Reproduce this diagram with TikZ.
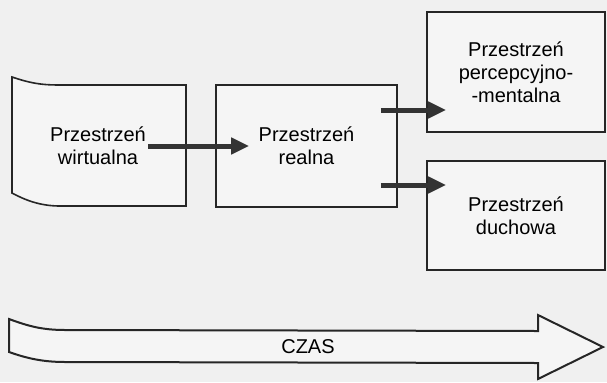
\documentclass[tikz,border=0pt]{standalone}
\usepackage{fontspec}
\setmainfont{Liberation Sans}
\usetikzlibrary{arrows.meta}

\begin{document}
\begin{tikzpicture}[x=0.5pt,y=-0.5pt,
    pole/.style={draw=black!85,line width=0.8pt,fill=white!92!gray,align=center,
        font=\fontsize{10}{11.5}\selectfont},
    napis/.style={align=center,font=\fontsize{10}{11.5}\selectfont},
    strz/.style={draw=black!80,line width=2.5pt,-{Triangle[length=9pt,width=8pt]}}]
    \fill[gray!12](0,0)rectangle(607,382);
    \useasboundingbox(0,0)rectangle(607,382);
    % przestrzen wirtualna
    \draw[draw=black!85,line width=0.8pt,fill=white!92!gray](12,77)..controls(30,83)and(40,85)..(60,85)
        --(186,85)--(186,206)--(60,206)..controls(40,206)and(25,200)..(12,193)--cycle;
    \node[napis,minimum width=88pt](wirt)at(98,146){Przestrzeń\\wirtualna};
    \node[pole,minimum width=90.5pt,minimum height=61pt](real)at(306.5,146){Przestrzeń\\realna};
    \node[pole,minimum width=89pt,minimum height=60pt](perc)at(516,72){Przestrzeń\\percepcyjno-\\-mentalna};
    \node[pole,minimum width=89pt,minimum height=54.5pt](duch)at(516,215.5){Przestrzeń\\duchowa};
    \draw[strz]([xshift=-19]wirt.east)--([xshift=17]real.west);
    \draw[strz]([shift={(-17,-36)}]real.east)--([shift={(20,38)}]perc.west);
    \draw[strz]([shift={(-17,39)}]real.east)--([shift={(20,-30.5)}]duch.west);
    % czas
    \draw[draw=black!85,line width=1pt,fill=white!92!gray](9,319)..controls(28,326)and(42,330)..(65,330)
        --(538,331)--(538,315)--(603,347)--(538,379)--(538,363)--(65,362)
        ..controls(42,362)and(26,358)..(9,352)--cycle;
    \node[napis](czas)at(308,347){CZAS};
\end{tikzpicture}
\end{document}
